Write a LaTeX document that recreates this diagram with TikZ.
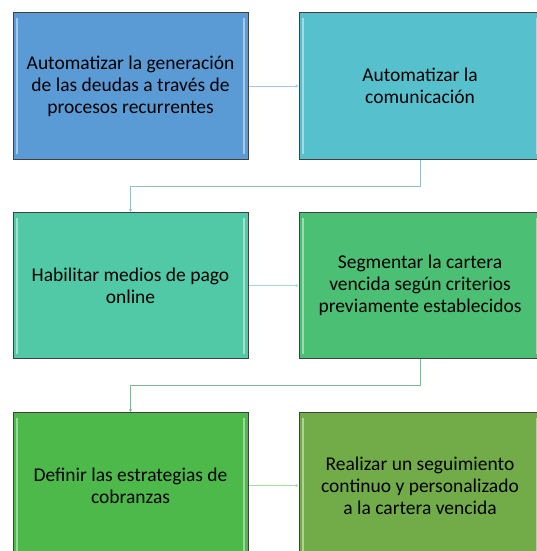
\documentclass[tikz,border=0pt]{standalone}
\usepackage{fontspec}
\setmainfont{Carlito}
\usetikzlibrary{positioning,arrows.meta,calc}
\definecolor{stepone}{RGB}{91, 155, 213}
\definecolor{steptwo}{RGB}{86, 193, 204}
\definecolor{stepthree}{RGB}{81, 201, 166}
\definecolor{stepfour}{RGB}{75, 191, 115}
\definecolor{stepfive}{RGB}{76, 185, 74}
\definecolor{stepsix}{RGB}{113, 172, 72}
\definecolor{boxedge}{RGB}{64, 64, 64}
\tikzset{
    task/.style={rectangle, draw=boxedge, line width=1pt, minimum width=235pt, minimum height=146pt,
        inner sep=0pt, align=center, font=\fontsize{19.5}{22}\selectfont,
        path picture={
            \draw[white, opacity=0.45, line width=2pt]
                ($(path picture bounding box.north west)+(4pt,-5pt)$) -- ($(path picture bounding box.south west)+(4pt,5pt)$)
                ($(path picture bounding box.north east)+(-4pt,-5pt)$) -- ($(path picture bounding box.south east)+(-4pt,5pt)$);
        }},
    wide task/.style={task, minimum width=242pt},
    link/.style={-{Stealth[length=3pt,width=3pt]}, line width=0.8pt}
}

\begin{document}
\begin{tikzpicture}[x=1pt, y=1pt]
    \useasboundingbox (0,0) rectangle (537,-551);

    % Row 1
    \node[task, fill=stepone] (auto) at (130.5,-86) {Automatizar la generación\\de las deudas a través de\\procesos recurrentes};
    \node[wide task, fill=steptwo] (comu) at (420,-86) {Automatizar la\\comunicación};

    % Row 2
    \node[task, fill=stepthree] (pago) at (130.5,-285.5) {Habilitar medios de pago\\online};
    \node[wide task, fill=stepfour] (segm) at (420,-285.5) {Segmentar la cartera\\vencida según criterios\\previamente establecidos};

    % Row 3
    \node[task, fill=stepfive] (estr) at (130.5,-485.5) {Definir las estrategias de\\cobranzas};
    \node[wide task, fill=stepsix] (segu) at (420,-485.5) {Realizar un seguimiento\\continuo y personalizado\\a la cartera vencida};

    % Connectors
    \draw[link, stepone!55] (auto) -- (comu);
    \draw[link, steptwo!55!gray!70] (comu.south) -- ++(0,-26.5) -| (pago.north);
    \draw[link, stepthree!55] (pago) -- (segm);
    \draw[link, stepfour!55!gray!80] (segm.south) -- ++(0,-26.5) -| (estr.north);
    \draw[link, stepfive!50] (estr) -- (segu);
\end{tikzpicture}
\end{document}
